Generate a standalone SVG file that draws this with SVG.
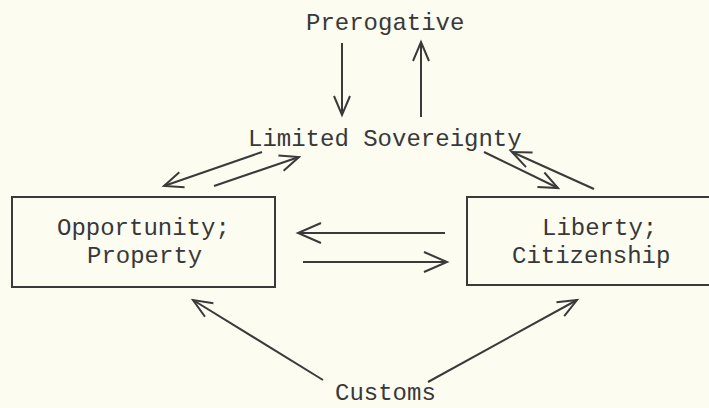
<svg xmlns="http://www.w3.org/2000/svg" width="709" height="408" viewBox="0 0 709 408">
<style>
text{font-family:"Liberation Mono","Courier New",monospace;font-size:24px;fill:#383838}
.box{fill:none;stroke:#3a3a3a;stroke-width:2}
.c line{stroke:#3a3a3a;stroke-width:2;fill:none}
.a{marker-end:url(#arr)}
.b{marker-end:url(#arrb)}
</style>
<defs>
<marker id="arr" markerUnits="userSpaceOnUse" viewBox="-25 -12 30 24" markerWidth="30" markerHeight="24" refX="0" refY="0" orient="auto" overflow="visible">
<path d="M-19,-8 L0,0 L-19,8" fill="none" stroke="#3a3a3a" stroke-width="2"/>
</marker>
<marker id="arrb" markerUnits="userSpaceOnUse" viewBox="-30 -14 34 28" markerWidth="34" markerHeight="28" refX="0" refY="0" orient="auto" overflow="visible">
<path d="M-23,-10 L0,0 L-23,10" fill="none" stroke="#3a3a3a" stroke-width="2"/>
</marker>
</defs>
<rect width="709" height="408" fill="#fcfcf1"/>
<g id="prerogative"><text x="306" y="30">Prerogative</text></g>
<g id="limited-sovereignty"><text x="248" y="146">Limited Sovereignty</text></g>
<g id="opportunity-property">
<rect class="box" x="12" y="197" width="263" height="90"/>
<text x="57" y="235">Opportunity;</text>
<text x="87" y="263">Property</text>
</g>
<g id="liberty-citizenship">
<rect class="box" x="467" y="197" width="260" height="88"/>
<text x="542" y="235">Liberty;</text>
<text x="512" y="263">Citizenship</text>
</g>
<g id="customs"><text x="335" y="400">Customs</text></g>
<g class="c" id="connectors">
<line class="a" x1="342" y1="43" x2="342" y2="115"/>
<line class="a" x1="421" y1="117" x2="421" y2="42"/>
<line class="a" x1="262" y1="152" x2="164" y2="186"/>
<line class="a" x1="214" y1="186" x2="299" y2="157"/>
<line class="a" x1="484" y1="152" x2="558" y2="188"/>
<line class="a" x1="594" y1="189" x2="512" y2="152"/>
<line class="b" x1="445" y1="233" x2="298" y2="233"/>
<line class="b" x1="303" y1="262" x2="447" y2="262"/>
<line class="a" x1="323" y1="380" x2="193" y2="300"/>
<line class="a" x1="428" y1="382" x2="577" y2="300"/>
</g>
</svg>
